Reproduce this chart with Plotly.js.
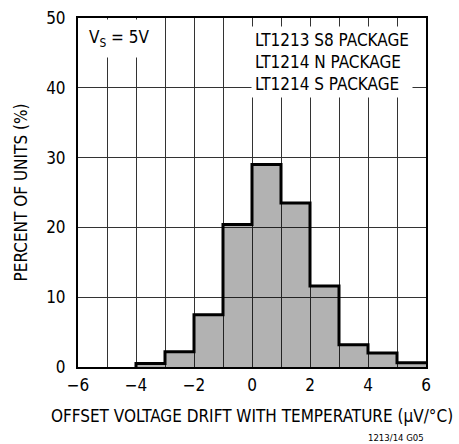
<!DOCTYPE html>
<html>
<head>
<meta charset="utf-8">
<script src="https://cdn.plot.ly/plotly-3.0.1.min.js"></script>
<style>html,body{margin:0;padding:0;background:#fff;}#chart{width:459px;height:444px;}</style>
</head>
<body>
<div id="chart"></div>
<script>
// Bin left edges (µV/°C) and percentage of units per 1 µV/°C bin
var binStarts = [-4, -3, -2, -1, 0, 1, 2, 3, 4, 5];
var binWidth = 1;
var percentUnits = [0.5, 2.2, 7.5, 20.4, 29.0, 23.5, 11.6, 3.2, 2.0, 0.6];
var xTickVals = [-6, -4, -2, 0, 2, 4, 6];
var yTickVals = [0, 10, 20, 30, 40, 50];
var legendLines = ["LT1213 S8 PACKAGE", "LT1214 N PACKAGE", "LT1214 S PACKAGE"];
var conditionText = "V<sub>S</sub> = 5V";
var xTitle = "OFFSET VOLTAGE DRIFT WITH TEMPERATURE (µV/°C)";
var yTitle = "PERCENT OF UNITS (%)";
var figId = "1213/14 G05";

var FONT = "'DejaVu Sans Condensed', 'Liberation Sans Narrow', Arial, sans-serif";

var barCenters = binStarts.map(function (s) { return s + binWidth / 2; });
// outline: step path through bin edges
var edgeX = binStarts.concat([binStarts[binStarts.length - 1] + binWidth]);
var edgeY = [0].concat(percentUnits);

var traces = [
  {
    type: 'bar',
    x: barCenters,
    y: percentUnits,
    width: binWidth,
    marker: { color: 'rgba(0,0,0,0.30)', line: { width: 0 } },
    hoverinfo: 'skip'
  },
  {
    type: 'scatter',
    mode: 'lines',
    x: edgeX,
    y: edgeY,
    line: { shape: 'vh', color: '#000', width: 3 },
    hoverinfo: 'skip'
  }
];

var layout = {
  width: 459,
  height: 444,
  margin: { l: 77.5, r: 33, t: 18, b: 77 },
  paper_bgcolor: '#fff',
  plot_bgcolor: '#fff',
  showlegend: false,
  bargap: 0,
  font: { family: FONT, size: 17, color: '#000' },
  xaxis: {
    range: [-6, 6],
    tickvals: xTickVals,
    ticks: '',
    showgrid: true,
    gridcolor: '#333',
    gridwidth: 1,
    minor: { dtick: 1, showgrid: true, gridcolor: '#333', gridwidth: 1, ticks: '' },
    zeroline: false,
    showline: true,
    mirror: true,
    linecolor: '#000',
    linewidth: 2,
    ticklabelstandoff: 2,
    tickfont: { family: FONT, size: 17 },
    title: { text: xTitle, font: { family: FONT, size: 17 }, standoff: 16 },
    fixedrange: true
  },
  yaxis: {
    range: [0, 50],
    tickvals: yTickVals,
    ticks: '',
    showgrid: true,
    gridcolor: '#333',
    gridwidth: 1,
    zeroline: false,
    showline: true,
    mirror: true,
    linecolor: '#000',
    linewidth: 2,
    ticklabelstandoff: 7,
    tickfont: { family: FONT, size: 17 },
    title: { text: yTitle, font: { family: FONT, size: 17 }, standoff: 14 },
    fixedrange: true
  },
  annotations: [
    {
      xref: 'paper', yref: 'paper', x: 0.008, y: 0.996,
      xanchor: 'left', yanchor: 'top',
      text: conditionText,
      showarrow: false,
      bgcolor: '#fff',
      borderpad: 7,
      font: { family: FONT, size: 17 }
    },
    {
      xref: 'paper', yref: 'paper', x: 0.496, y: 0.978,
      xanchor: 'left', yanchor: 'top',
      align: 'left',
      text: legendLines.join('<br>'),
      showarrow: false,
      bgcolor: '#fff',
      borderpad: 3,
      font: { family: FONT, size: 17 }
    },
    {
      xref: 'paper', yref: 'paper', x: 1, y: -0.202,
      xanchor: 'right', yanchor: 'middle',
      text: figId,
      showarrow: false,
      font: { family: FONT, size: 9.5 }
    }
  ]
};

Plotly.newPlot('chart', traces, layout, { staticPlot: true, displayModeBar: false });
</script>
</body>
</html>
